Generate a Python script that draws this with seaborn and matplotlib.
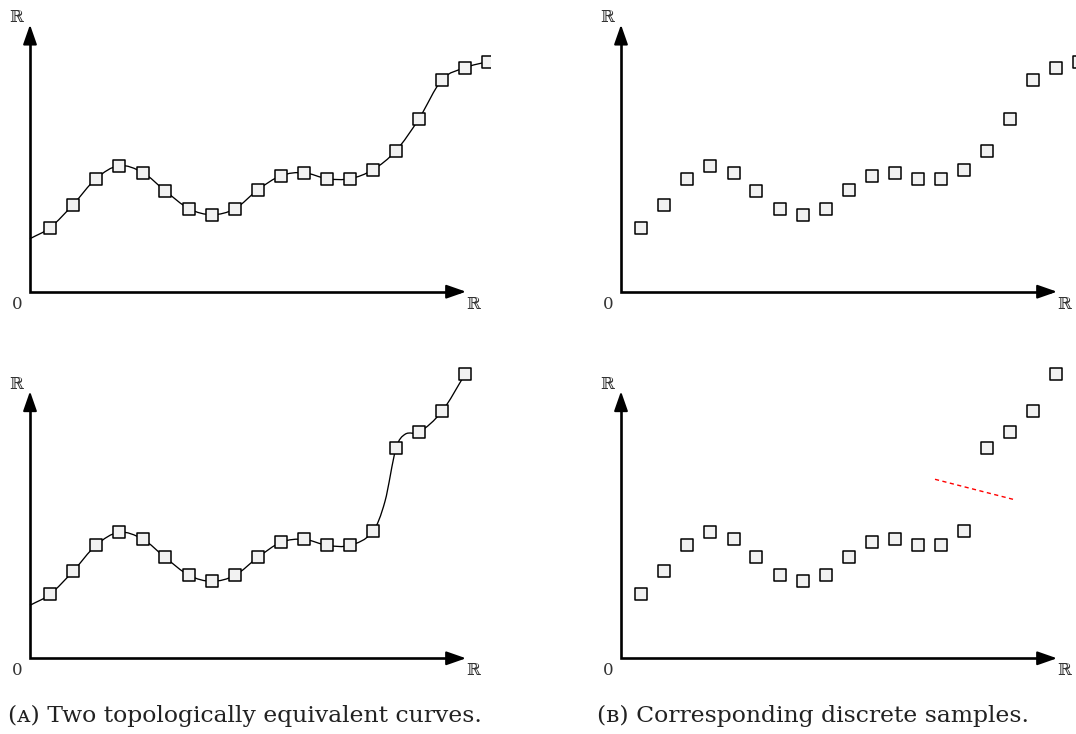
import numpy as np
import pandas as pd
import matplotlib
matplotlib.use("Agg")
import matplotlib.pyplot as plt
import seaborn as sns
from matplotlib.path import Path
import matplotlib.patches as patches

# ======================
# Data (units ~ pixels from each panel's origin)
# ======================
sample_x = [20, 43, 66, 89, 113, 135, 159, 182, 205, 228, 251, 274, 297, 320, 343, 366, 389, 412, 435, 458]
top_y = [64, 87, 113, 126, 119, 101, 83, 77, 83, 102, 116, 119, 113, 113, 122, 141, 173, 212, 224, 230]
bottom_y = [64, 87, 113, 126, 119, 101, 83, 77, 83, 101, 116, 119, 113, 113, 127, 210, 226, 247, 284]

# knots of the smooth curves in panel (A)
top_curve_x = [0] + sample_x + [478]
top_curve_y = [53] + top_y + [234]
bottom_curve_x = [0] + sample_x[:15] + [355, 366, 375, 389, 412, 435]
bottom_curve_y = [53] + bottom_y[:15] + [157, 210, 224, 226, 247, 284]

# red dashed segment in the lower right panel
red_x = [314, 392]
red_y = [179, 159]

captions = ["(\u1d00) Two topologically equivalent curves.",
            "(\u0299) Corresponding discrete samples."]

# ======================
# Config
# ======================
W, H = 1076, 734
SERIF = ["DejaVu Serif", "DejaVu Sans"]
SQUARE_FILL = "#f2f2f2"


def smooth_path(xs, ys):
    # cubic hermite segments rendered as bezier curves by matplotlib
    xs = np.asarray(xs, float)
    ys = np.asarray(ys, float)
    n = len(xs)
    m = np.zeros(n)
    m[0] = (ys[1] - ys[0]) / (xs[1] - xs[0])
    m[-1] = (ys[-1] - ys[-2]) / (xs[-1] - xs[-2])
    for i in range(1, n - 1):
        m[i] = (ys[i + 1] - ys[i - 1]) / (xs[i + 1] - xs[i - 1])
    verts = [(xs[0], ys[0])]
    codes = [Path.MOVETO]
    for i in range(n - 1):
        dx = xs[i + 1] - xs[i]
        verts += [(xs[i] + dx / 3, ys[i] + m[i] * dx / 3),
                  (xs[i + 1] - dx / 3, ys[i + 1] - m[i + 1] * dx / 3),
                  (xs[i + 1], ys[i + 1])]
        codes += [Path.CURVE4] * 3
    return Path(verts, codes)


def make_axes(fig, ox, oy, xlim, ylim):
    left = (ox + xlim[0]) / W
    bottom = (H - (oy - ylim[0])) / H
    ax = fig.add_axes([left, bottom, (xlim[1] - xlim[0]) / W, (ylim[1] - ylim[0]) / H])
    ax.set_xlim(*xlim)
    ax.set_ylim(*ylim)
    ax.axis("off")
    return ax


def draw_frame(ax, x_tip=436, y_tip=267):
    ax.plot([0, 0, x_tip - 6], [y_tip - 6, 0, 0], color="black", lw=1.9,
            solid_joinstyle="miter", solid_capstyle="butt", clip_on=False)
    arrow = dict(arrowstyle="-|>,head_length=0.8,head_width=0.28", color="black",
                 lw=1.5, mutation_scale=15, shrinkA=0, shrinkB=0)
    ax.annotate("", xy=(x_tip, 0), xytext=(x_tip - 10, 0), arrowprops=arrow, annotation_clip=False)
    ax.annotate("", xy=(0, y_tip), xytext=(0, y_tip - 10), arrowprops=arrow, annotation_clip=False)
    ax.text(-13, -12.5, "0", family=SERIF, fontsize=12, color="#333333",
            ha="center", va="center", clip_on=False)
    ax.text(443, -12.5, "\u211d", family=SERIF, fontsize=12, color="#333333",
            ha="center", va="center", clip_on=False)
    ax.text(-14, 274, "\u211d", family=SERIF, fontsize=12, color="#333333",
            ha="center", va="center", clip_on=False)


def draw_squares(ax, xs, ys):
    df = pd.DataFrame({"x": xs, "y": ys})
    sns.scatterplot(data=df, x="x", y="y", ax=ax, marker="s", s=72,
                    color=SQUARE_FILL, edgecolor="black", linewidth=1.1, zorder=3)


# ======================
# Plotting
# ======================
def main():
    sns.set_theme(style="white")
    fig = plt.figure(figsize=(W / 100, H / 100), dpi=100)

    panels = [
        # origin x, origin y, xlim, ylim
        (30, 291.7, (-30, 460), (-22, 290)),
        (621, 291.7, (-30, 455), (-22, 290)),
        (30, 658.3, (-30, 460), (-22, 300)),
        (621, 658.3, (-30, 455), (-22, 300)),
    ]
    axes = [make_axes(fig, *p) for p in panels]
    for ax in axes:
        draw_frame(ax)

    # (A) curves with their samples
    for ax, cx, cy, ys in [(axes[0], top_curve_x, top_curve_y, top_y),
                           (axes[2], bottom_curve_x, bottom_curve_y, bottom_y)]:
        patch = patches.PathPatch(smooth_path(cx, cy), facecolor="none",
                                  edgecolor="black", lw=0.95, zorder=2)
        ax.add_patch(patch)
        draw_squares(ax, sample_x[:len(ys)], ys)

    # (B) samples only
    draw_squares(axes[1], sample_x, top_y)
    draw_squares(axes[3], sample_x[:len(bottom_y)], bottom_y)
    axes[3].plot(red_x, red_y, color="red", lw=1.0, ls=(0, (3, 2.5)))

    fig.text(8 / W, 1 - 722 / H, captions[0], family=SERIF, fontsize=16.9,
             color="#222222", ha="left", va="baseline")
    fig.text(597 / W, 1 - 722 / H, captions[1], family=SERIF, fontsize=16.9,
             color="#222222", ha="left", va="baseline")

    fig.savefig("out.png", dpi=100)
    plt.close(fig)


if __name__ == "__main__":
    main()
